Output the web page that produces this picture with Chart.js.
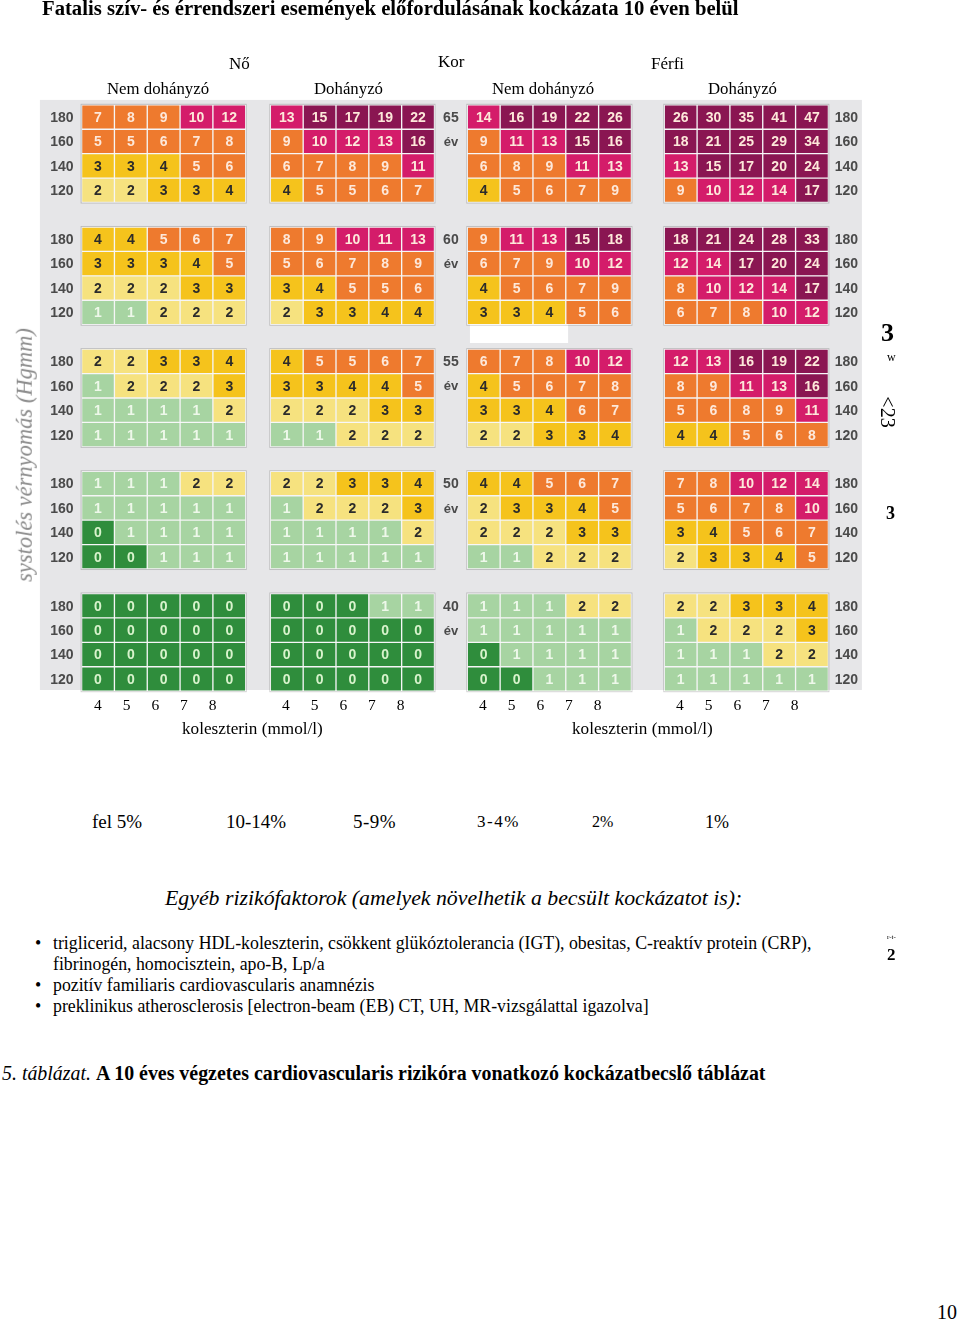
<!DOCTYPE html>
<html lang="hu">
<head>
<meta charset="utf-8">
<title>Kockázatbecslő táblázat</title>
<script src="https://cdn.jsdelivr.net/npm/chart.js@4.4.1/dist/chart.umd.min.js"></script>
<style>
  html, body { margin: 0; padding: 0; background: #fff; }
  body { width: 960px; height: 1322px; position: relative; overflow: hidden;
         font-family: "Liberation Serif", "Times New Roman", serif; color: #000; }
  .t { position: absolute; white-space: nowrap; line-height: 1; }
  #wrap { position: absolute; left: 0; top: 0; width: 960px; height: 760px; }
</style>
</head>
<body>
<div id="wrap"><canvas id="scoreChart" width="960" height="760"></canvas></div>
<div id="texts"></div>
<script>
const ages = [65, 60, 55, 50, 40];
const sbpLevels = [180, 160, 140, 120];
const cholTicks = ['4', '5', '6', '7', '8'];
const sexLabels = ['Nő', 'Férfi'];
const smokeLabels = ['Nem dohányzó', 'Dohányzó', 'Nem dohányzó', 'Dohányzó'];
const legendLabels = ['fel 5%', '10-14%', '5-9%', '3-4%', '2%', '1%'];

// rows per age group: SBP 180, 160, 140, 120; columns: cholesterol 4..8
const femaleNonSmoker = [
  [[7, 8, 9, 10, 12], [5, 5, 6, 7, 8], [3, 3, 4, 5, 6], [2, 2, 3, 3, 4]],
  [[4, 4, 5, 6, 7], [3, 3, 3, 4, 5], [2, 2, 2, 3, 3], [1, 1, 2, 2, 2]],
  [[2, 2, 3, 3, 4], [1, 2, 2, 2, 3], [1, 1, 1, 1, 2], [1, 1, 1, 1, 1]],
  [[1, 1, 1, 2, 2], [1, 1, 1, 1, 1], [0, 1, 1, 1, 1], [0, 0, 1, 1, 1]],
  [[0, 0, 0, 0, 0], [0, 0, 0, 0, 0], [0, 0, 0, 0, 0], [0, 0, 0, 0, 0]]
];
const femaleSmoker = [
  [[13, 15, 17, 19, 22], [9, 10, 12, 13, 16], [6, 7, 8, 9, 11], [4, 5, 5, 6, 7]],
  [[8, 9, 10, 11, 13], [5, 6, 7, 8, 9], [3, 4, 5, 5, 6], [2, 3, 3, 4, 4]],
  [[4, 5, 5, 6, 7], [3, 3, 4, 4, 5], [2, 2, 2, 3, 3], [1, 1, 2, 2, 2]],
  [[2, 2, 3, 3, 4], [1, 2, 2, 2, 3], [1, 1, 1, 1, 2], [1, 1, 1, 1, 1]],
  [[0, 0, 0, 1, 1], [0, 0, 0, 0, 0], [0, 0, 0, 0, 0], [0, 0, 0, 0, 0]]
];
const maleNonSmoker = [
  [[14, 16, 19, 22, 26], [9, 11, 13, 15, 16], [6, 8, 9, 11, 13], [4, 5, 6, 7, 9]],
  [[9, 11, 13, 15, 18], [6, 7, 9, 10, 12], [4, 5, 6, 7, 9], [3, 3, 4, 5, 6]],
  [[6, 7, 8, 10, 12], [4, 5, 6, 7, 8], [3, 3, 4, 6, 7], [2, 2, 3, 3, 4]],
  [[4, 4, 5, 6, 7], [2, 3, 3, 4, 5], [2, 2, 2, 3, 3], [1, 1, 2, 2, 2]],
  [[1, 1, 1, 2, 2], [1, 1, 1, 1, 1], [0, 1, 1, 1, 1], [0, 0, 1, 1, 1]]
];
const maleSmoker = [
  [[26, 30, 35, 41, 47], [18, 21, 25, 29, 34], [13, 15, 17, 20, 24], [9, 10, 12, 14, 17]],
  [[18, 21, 24, 28, 33], [12, 14, 17, 20, 24], [8, 10, 12, 14, 17], [6, 7, 8, 10, 12]],
  [[12, 13, 16, 19, 22], [8, 9, 11, 13, 16], [5, 6, 8, 9, 11], [4, 4, 5, 6, 8]],
  [[7, 8, 10, 12, 14], [5, 6, 7, 8, 10], [3, 4, 5, 6, 7], [2, 3, 3, 4, 5]],
  [[2, 2, 3, 3, 4], [1, 2, 2, 2, 3], [1, 1, 1, 2, 2], [1, 1, 1, 1, 1]]
];

const panels = [femaleNonSmoker, femaleSmoker, maleNonSmoker, maleSmoker];
const panelOffset = [0, 5.75, 11.75, 17.75]; // in cell columns
const groupStep = 5;                          // in cell rows

function cellColor(v) {
  if (v >= 15) return '#8a1652';
  if (v >= 10) return '#d41c6a';
  if (v >= 5) return '#ee7a2e';
  if (v >= 3) return '#f5c31c';
  if (v === 2) return '#f6e27f';
  if (v === 1) return '#a7d4a2';
  return '#2f8d3c';
}
function textColor(v) {
  if (v >= 5) return '#fde8da';
  if (v >= 2) return '#2b2b2b';
  if (v === 1) return '#eef8ea';
  return '#d8f3cc';
}

const datasets = panels.map((panel, p) => {
  const data = [];
  panel.forEach((rows, a) => {
    rows.forEach((vals, r) => {
      vals.forEach((v, c) => {
        const yc = a * groupStep + r;
        data.push({ x: panelOffset[p] + c, y: [yc - 0.5, yc + 0.5], v: v });
      });
    });
  });
  return {
    data: data,
    backgroundColor: data.map(d => cellColor(d.v)),
    borderColor: 'rgba(255,255,255,0.55)',
    borderWidth: 1,
    borderSkipped: false,
    grouped: false,
    barPercentage: 1,
    categoryPercentage: 1
  };
});

// grey table background, block outlines
const backdrop = {
  id: 'backdrop',
  beforeDatasetsDraw(chart) {
    const { ctx, scales: { x, y } } = chart;
    ctx.save();
    ctx.fillStyle = '#e6e6e8';
    const l = x.getPixelForValue(-1.77), r = x.getPixelForValue(23.27);
    const t = y.getPixelForValue(-0.7), b = y.getPixelForValue(23.45);
    ctx.fillRect(l, t, r - l, b - t);
    // a white patch in the scanned original
    ctx.fillStyle = '#ffffff';
    const wl = x.getPixelForValue(11.33), wr = x.getPixelForValue(14.32);
    const wt = y.getPixelForValue(8.4), wb = y.getPixelForValue(9.25);
    ctx.fillRect(wl, wt, wr - wl, wb - wt);
    ctx.strokeStyle = 'rgba(0,0,0,0.18)';
    ctx.lineWidth = 1;
    panelOffset.forEach(off => {
      ages.forEach((age, a) => {
        const x0 = x.getPixelForValue(off - 0.5), x1 = x.getPixelForValue(off + 4.5);
        const y0 = y.getPixelForValue(a * groupStep - 0.5), y1 = y.getPixelForValue(a * groupStep + 3.5);
        ctx.strokeRect(x0 - 0.5, y0 - 0.5, x1 - x0 + 1, y1 - y0 + 1);
      });
    });
    ctx.restore();
  }
};

// numbers in the cells, SBP and age labels
const cellLabels = {
  id: 'cellLabels',
  afterDatasetsDraw(chart) {
    const { ctx, scales: { x, y } } = chart;
    ctx.save();
    ctx.textAlign = 'center';
    ctx.textBaseline = 'middle';
    ctx.font = 'bold 14px "Liberation Sans", Arial, sans-serif';
    chart.data.datasets.forEach((ds, i) => {
      chart.getDatasetMeta(i).data.forEach((bar, j) => {
        const v = ds.data[j].v;
        ctx.fillStyle = textColor(v);
        ctx.fillText(String(v), bar.x, (bar.y + bar.base) / 2 + 1);
      });
    });
    ctx.fillStyle = '#4a4a4a';
    ages.forEach((age, a) => {
      sbpLevels.forEach((s, r) => {
        const py = y.getPixelForValue(a * groupStep + r) + 1;
        ctx.fillText(String(s), x.getPixelForValue(-1.1), py);
        ctx.fillText(String(s), x.getPixelForValue(22.8), py);
      });
      ctx.fillText(String(age), x.getPixelForValue(10.75), y.getPixelForValue(a * groupStep) + 1);
      ctx.font = 'bold 13px "Liberation Sans", Arial, sans-serif';
      ctx.fillText('év', x.getPixelForValue(10.75), y.getPixelForValue(a * groupStep + 1) + 1);
      ctx.font = 'bold 14px "Liberation Sans", Arial, sans-serif';
    });
    ctx.restore();
  }
};

new Chart(document.getElementById('scoreChart'), {
  type: 'bar',
  data: { datasets: datasets },
  options: {
    responsive: false,
    animation: false,
    events: [],
    layout: { padding: { left: 81.6, right: 131.6, top: 104.8, bottom: 68.8 } },
    plugins: { legend: { display: false }, tooltip: { enabled: false } },
    scales: {
      x: {
        type: 'linear', min: -0.5, max: 22.25, display: false,
        afterBuildTicks: scale => { scale.ticks = []; }
      },
      y: { type: 'linear', min: -0.5, max: 23.5, reverse: true, display: false }
    }
  },
  plugins: [backdrop, cellLabels]
});

// --- surrounding text ---
const box = document.getElementById('texts');
function addText(str, left, top, css) {
  const d = document.createElement('div');
  d.className = 't';
  d.textContent = str;
  d.style.left = left + 'px';
  d.style.top = top + 'px';
  if (css) d.style.cssText += css;
  box.appendChild(d);
  return d;
}

addText('Fatalis szív- és érrendszeri események előfordulásának kockázata 10 éven belül', 42, -2,
  'font-size:20.7px;font-weight:bold;');
addText(sexLabels[0], 229, 55, 'font-size:17px;');
addText('Kor', 438, 53, 'font-size:17px;');
addText(sexLabels[1], 651, 55, 'font-size:17px;');
[107, 314, 492, 708].forEach((lx, i) => addText(smokeLabels[i], lx, 81, 'font-size:16.8px;'));

[98, 286, 483, 680].forEach(cx => {
  cholTicks.forEach((tk, i) => {
    addText(tk, cx + i * 28.7 - 4, 697, 'font-size:15.5px;');
  });
});
addText('koleszterin (mmol/l)', 182, 720, 'font-size:17.2px;');
addText('koleszterin (mmol/l)', 572, 720, 'font-size:17.2px;');

addText('systolés vérnyomás (Hgmm)', 25, 455,
  'font-size:22.5px;font-style:italic;color:#8a8a8a;transform:translate(-50%,-50%) rotate(-90deg);');

const legendX = [92, 226, 353, 477, 592, 705];
const legendSize = [19, 19, 19, 17, 16, 18];
const legendSpacing = [0, 0, 0.5, 1.5, 0, 0];
legendLabels.forEach((lb, i) => addText(lb, legendX[i], 812 + (19 - legendSize[i]) * 0.7,
  'font-size:' + legendSize[i] + 'px;letter-spacing:' + legendSpacing[i] + 'px;'));

addText('Egyéb rizikófaktorok (amelyek növelhetik a becsült kockázatot is):', 165, 888,
  'font-size:21.8px;font-style:italic;');
const bulletLines = [
  ['•', 'triglicerid, alacsony HDL-koleszterin, csökkent glükóztolerancia (IGT), obesitas, C-reaktív protein (CRP),'],
  ['', 'fibrinogén, homocisztein, apo-B, Lp/a'],
  ['•', 'pozitív familiaris cardiovascularis anamnézis'],
  ['•', 'preklinikus atherosclerosis [electron-beam (EB) CT, UH, MR-vizsgálattal igazolva]']
];
bulletLines.forEach((ln, i) => {
  if (ln[0]) addText(ln[0], 35, 935 + i * 21, 'font-size:17.8px;');
  addText(ln[1], 53, 935 + i * 21, 'font-size:17.8px;');
});

addText('3', 881, 320, 'font-size:26px;font-weight:bold;');
addText('w', 887, 351, 'font-size:12px;');
addText('<23', 888, 412, 'font-size:20px;transform:translate(-50%,-50%) rotate(90deg);');
addText('3', 886, 504, 'font-size:18px;font-weight:bold;');
addText('r-t-', 887, 934, 'font-size:7px;');
addText('2', 887, 946, 'font-size:17px;font-weight:bold;');

const cap = addText('', 2, 1064, 'font-size:19.9px;');
cap.innerHTML = '<i>5. táblázat.</i> <b>A 10 éves végzetes cardiovascularis rizikóra vonatkozó kockázatbecslő táblázat</b>';
addText('10', 937, 1302, 'font-size:20px;');
</script>
</body>
</html>
